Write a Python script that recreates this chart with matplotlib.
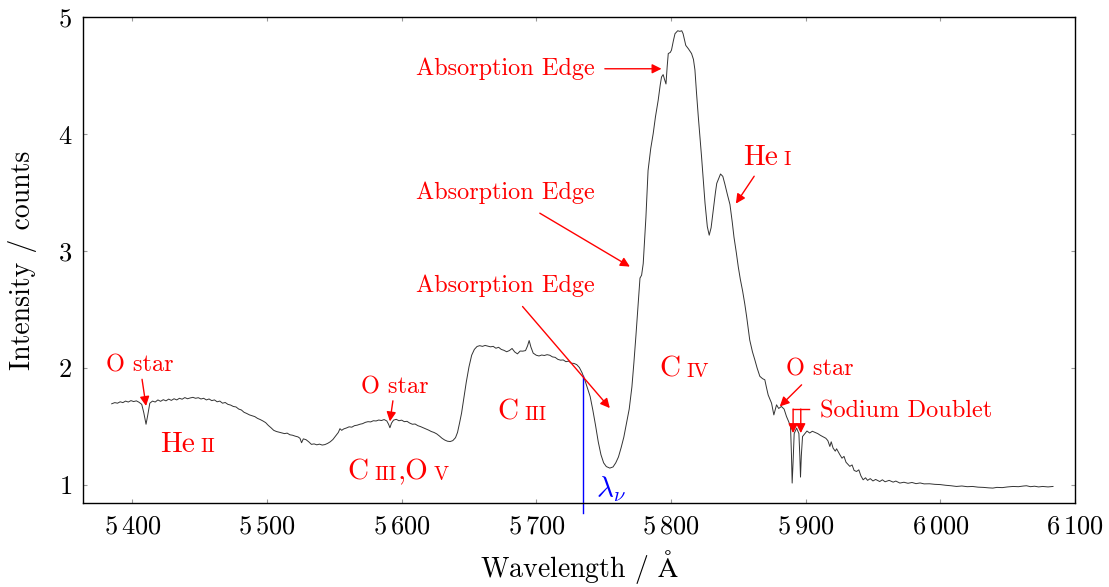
import matplotlib
matplotlib.use("Agg")
import matplotlib.pyplot as plt
from matplotlib.ticker import FuncFormatter

plt.rcParams['font.family'] = ['cmr10', 'DejaVu Serif']
plt.rcParams['mathtext.fontset'] = 'cm'
plt.rcParams['axes.unicode_minus'] = False

# spectrum (wavelength in Angstrom, intensity in counts)
wavelength = [
    5384.7, 5387, 5389, 5391, 5393, 5395, 5397, 5399, 5401, 5403,
    5405, 5407, 5408.5, 5410.2, 5411.5, 5413, 5415, 5417, 5419, 5421,
    5423, 5425, 5427, 5429, 5431, 5433, 5435, 5437, 5439, 5441,
    5443, 5445, 5447, 5449, 5451, 5453, 5455, 5457, 5459, 5461,
    5463, 5465, 5467, 5469, 5471, 5473, 5475, 5477, 5479, 5481,
    5483, 5485, 5487, 5489, 5491, 5493, 5495, 5497, 5499, 5501,
    5503, 5505, 5507, 5509, 5511, 5513, 5515, 5517, 5519, 5521,
    5523, 5524.5, 5525.7, 5527, 5529, 5531, 5533, 5535, 5537, 5539,
    5541, 5543, 5545, 5547, 5549, 5551, 5553, 5554.2, 5555.5, 5557,
    5559, 5561, 5563, 5565, 5567, 5569, 5571, 5573, 5575, 5577,
    5579, 5581, 5583, 5585, 5587, 5589, 5590.3, 5591.3, 5592.5, 5594,
    5596, 5598, 5600, 5602, 5604, 5606, 5608, 5610, 5612, 5614,
    5616, 5618, 5620, 5622, 5624, 5626, 5628, 5630, 5632, 5634,
    5636, 5638, 5640, 5641.5, 5643, 5644.5, 5646, 5648, 5650, 5652,
    5654, 5656, 5658, 5660, 5662, 5664, 5666, 5668, 5670, 5672,
    5674, 5676, 5678, 5680, 5682, 5684, 5686, 5688, 5690, 5692,
    5693.5, 5694.7, 5696, 5697.7, 5700, 5702, 5704, 5706, 5708, 5710,
    5712, 5714, 5716, 5718, 5720, 5722, 5724, 5726, 5728, 5730,
    5732, 5734, 5736, 5738, 5740, 5742, 5744, 5746, 5748, 5750,
    5752, 5754.6, 5757, 5759, 5761, 5763, 5765, 5767, 5769, 5771,
    5772.5, 5774, 5775.5, 5777, 5778.2, 5779.4, 5781.4, 5783, 5785, 5786.8,
    5788.5, 5790.5, 5792, 5793, 5794.2, 5795.2, 5796.3, 5797.2, 5798, 5799.5,
    5800.4, 5801.8, 5803, 5805, 5806.6, 5808, 5809, 5810, 5811, 5813,
    5815.3, 5816.7, 5817.8, 5819, 5820.3, 5822.7, 5825.3, 5827, 5828.4, 5829.8,
    5831.4, 5833, 5834, 5836.8, 5838.5, 5840, 5842, 5843.8, 5845.5, 5846.8,
    5848.5, 5850, 5851.5, 5853.2, 5854.8, 5856.2, 5858.5, 5860.5, 5862.3, 5864,
    5866, 5868, 5869.7, 5871, 5872.2, 5874.7, 5876.4, 5878.4, 5880, 5882,
    5884, 5885.8, 5887.5, 5888.8, 5889.5, 5890, 5890.7, 5891.5, 5893.3, 5895,
    5895.7, 5896.2, 5896.8, 5897.7, 5899.4, 5901, 5903, 5905, 5907, 5909,
    5911, 5913, 5915, 5916.5, 5918, 5919, 5920.4, 5922, 5923, 5925.4,
    5927, 5928.5, 5930, 5932.8, 5934.5, 5936, 5937.8, 5939.5, 5941, 5942.7,
    5944.5, 5946, 5948, 5950, 5952, 5955, 5957, 5959, 5962, 5965,
    5967, 5970, 5973, 5976, 5979, 5982, 5985, 5988, 5992, 5996,
    6000, 6004, 6008, 6012, 6016, 6020, 6024, 6028, 6032, 6036,
    6039, 6042, 6046, 6050, 6054, 6058, 6062, 6064, 6067, 6070,
    6073, 6076, 6080, 6083.7,
]
intensity = [
    1.695, 1.705, 1.700, 1.712, 1.705, 1.718, 1.710, 1.722, 1.714, 1.720,
    1.708, 1.690, 1.620, 1.520, 1.600, 1.700, 1.718, 1.710, 1.728, 1.716,
    1.730, 1.720, 1.735, 1.724, 1.738, 1.728, 1.742, 1.734, 1.748, 1.738,
    1.745, 1.750, 1.742, 1.747, 1.736, 1.742, 1.728, 1.736, 1.722, 1.728,
    1.712, 1.718, 1.700, 1.706, 1.690, 1.684, 1.672, 1.668, 1.650, 1.642,
    1.622, 1.612, 1.600, 1.592, 1.585, 1.570, 1.560, 1.548, 1.534, 1.510,
    1.490, 1.468, 1.458, 1.452, 1.446, 1.440, 1.444, 1.430, 1.426, 1.418,
    1.412, 1.400, 1.362, 1.395, 1.388, 1.370, 1.348, 1.352, 1.344, 1.350,
    1.342, 1.346, 1.356, 1.370, 1.390, 1.420, 1.450, 1.482, 1.468, 1.480,
    1.488, 1.498, 1.495, 1.508, 1.512, 1.520, 1.525, 1.536, 1.542, 1.540,
    1.550, 1.548, 1.556, 1.552, 1.560, 1.548, 1.520, 1.490, 1.530, 1.555,
    1.562, 1.550, 1.555, 1.542, 1.545, 1.530, 1.520, 1.522, 1.508, 1.500,
    1.490, 1.480, 1.470, 1.458, 1.450, 1.438, 1.420, 1.400, 1.385, 1.375,
    1.372, 1.380, 1.405, 1.450, 1.530, 1.615, 1.730, 1.880, 2.010, 2.110,
    2.160, 2.185, 2.192, 2.186, 2.194, 2.188, 2.182, 2.186, 2.170, 2.178,
    2.160, 2.152, 2.140, 2.150, 2.168, 2.138, 2.122, 2.146, 2.145, 2.150,
    2.190, 2.236, 2.180, 2.128, 2.110, 2.104, 2.112, 2.108, 2.115, 2.110,
    2.096, 2.092, 2.075, 2.068, 2.070, 2.055, 2.060, 2.042, 2.040, 2.030,
    2.005, 1.960, 1.900, 1.830, 1.757, 1.640, 1.510, 1.370, 1.260, 1.190,
    1.158, 1.145, 1.155, 1.190, 1.240, 1.320, 1.410, 1.530, 1.650, 1.840,
    2.050, 2.280, 2.530, 2.770, 2.795, 2.894, 3.290, 3.690, 3.880, 4.005,
    4.150, 4.290, 4.420, 4.490, 4.510, 4.470, 4.430, 4.580, 4.690, 4.700,
    4.720, 4.800, 4.860, 4.885, 4.880, 4.885, 4.860, 4.810, 4.760, 4.730,
    4.690, 4.640, 4.550, 4.350, 4.150, 3.810, 3.410, 3.210, 3.137, 3.200,
    3.350, 3.500, 3.580, 3.660, 3.640, 3.575, 3.480, 3.400, 3.250, 3.120,
    2.990, 2.865, 2.760, 2.660, 2.550, 2.440, 2.240, 2.140, 2.070, 2.000,
    1.930, 1.910, 1.900, 1.830, 1.770, 1.700, 1.600, 1.686, 1.655, 1.672,
    1.650, 1.586, 1.540, 1.500, 1.250, 1.017, 1.200, 1.440, 1.487, 1.440,
    1.250, 1.068, 1.250, 1.415, 1.440, 1.462, 1.445, 1.460, 1.450, 1.440,
    1.425, 1.412, 1.400, 1.380, 1.330, 1.370, 1.316, 1.290, 1.310, 1.260,
    1.230, 1.245, 1.195, 1.160, 1.172, 1.125, 1.116, 1.130, 1.080, 1.045,
    1.062, 1.040, 1.055, 1.035, 1.048, 1.030, 1.045, 1.028, 1.040, 1.025,
    1.034, 1.017, 1.024, 1.015, 1.022, 1.012, 1.018, 1.010, 1.011, 1.006,
    1.004, 0.998, 0.994, 0.988, 0.992, 0.986, 0.988, 0.982, 0.980, 0.976,
    0.974, 0.980, 0.978, 0.984, 0.988, 0.986, 0.992, 0.994, 0.986, 0.990,
    0.984, 0.988, 0.984, 0.988,
]

x_ticks = [5400, 5500, 5600, 5700, 5800, 5900, 6000, 6100]
y_ticks = [1, 2, 3, 4, 5]

lambda_nu = 5734.6
sodium_lines = [5890.7, 5896.4]

RED = (1, 0, 0)
arrow = dict(arrowstyle='-|>', color=RED, lw=1.0, mutation_scale=14,
             shrinkA=0, shrinkB=0)

fig = plt.figure(figsize=(11.09, 5.87), dpi=100)
ax = fig.add_axes([0.0751, 0.1436, 0.8942, 0.8269])

ax.plot(wavelength, intensity, color='#333333', lw=0.7)

ax.set_xlim(5363.6, 6100)
ax.set_ylim(0.849, 5.0)
ax.set_xticks(x_ticks)
ax.set_yticks(y_ticks)
ax.xaxis.set_major_formatter(FuncFormatter(
    lambda v, _: r'$%d\,%03d$' % (int(v) // 1000, int(v) % 1000)))
ax.yaxis.set_major_formatter(FuncFormatter(lambda v, _: r'$%d$' % v))
ax.tick_params(direction='in', length=3, width=0.8, color='#999999',
               top=True, right=True, labelsize=19)
ax.tick_params(axis='x', pad=9)
ax.tick_params(axis='y', pad=8)
for s in ax.spines.values():
    s.set_color('black')
    s.set_linewidth(1.0)

fig.text(0.5222, 0.017, r'Wavelength / $\mathrm{\AA}$', ha='center',
         va='baseline', fontsize=20)
fig.text(0.020, 0.557, 'Intensity / counts', rotation=90, ha='center',
         va='center', fontsize=20)

# lambda_nu marker
ax.plot([lambda_nu, lambda_nu], [0.76, 1.93], color='blue', lw=1.0,
        clip_on=False)
ax.text(5744.2, 0.9, r'$\lambda_\nu$', color='blue', fontsize=21,
        va='baseline')

renderer = fig.canvas.get_renderer()


# species labels, ionisation stage set smaller like small caps
def species(x, y, parts, gap=6):
    for i, p in enumerate(parts):
        size = 21 if i % 2 == 0 else 14.5
        t = ax.text(x, y, p, color=RED, fontsize=size, va='baseline')
        bb = t.get_window_extent(renderer)
        step = gap if i % 2 == 0 else 1
        x = ax.transData.inverted().transform((bb.x1 + step, bb.y0))[0]


species(5420.5, 1.285, ['He', 'II'])
species(5559.4, 1.045, ['C', 'III', ',O', 'V'])
species(5671.4, 1.558, ['C', 'III'])
species(5791.7, 1.928, ['C', 'IV'])
species(5853.4, 3.738, ['He', 'I'])

# feature annotations
ann_size = 17.5
ax.annotate('', xy=(5848.2, 3.407), xytext=(5861.8, 3.641), arrowprops=arrow)

ax.annotate('O star', xy=(5410.2, 1.676), xytext=(5405.7, 1.928),
            color=RED, fontsize=ann_size, ha='center', va='bottom',
            arrowprops=arrow)
ax.annotate('O star', xy=(5591.3, 1.544), xytext=(5595.0, 1.744),
            color=RED, fontsize=ann_size, ha='center', va='bottom',
            arrowprops=arrow)
ax.annotate('', xy=(5880.8, 1.672), xytext=(5897.0, 1.857), arrowprops=arrow)
ax.text(5885.3, 1.934, 'O star', color=RED, fontsize=ann_size,
        va='baseline')

ax.annotate('', xy=(5793.0, 4.56), xytext=(5750.9, 4.56), arrowprops=arrow)
ax.text(5676.7, 4.507, 'Absorption Edge', color=RED, fontsize=ann_size,
        ha='center', va='baseline')
ax.annotate('', xy=(5769.5, 2.868), xytext=(5702.6, 3.325), arrowprops=arrow)
ax.text(5676.7, 3.444, 'Absorption Edge', color=RED, fontsize=ann_size,
        ha='center', va='baseline')
ax.annotate('', xy=(5754.6, 1.658), xytext=(5689.8, 2.527), arrowprops=arrow)
ax.text(5676.7, 2.65, 'Absorption Edge', color=RED, fontsize=ann_size,
        ha='center', va='baseline')

# sodium doublet bracket
ax.plot([sodium_lines[0], 5902.3], [1.65, 1.65], color=RED, lw=1.0)
for w in sodium_lines:
    ax.annotate('', xy=(w, 1.444), xytext=(w, 1.65), arrowprops=arrow)
ax.text(5910.5, 1.575, 'Sodium Doublet', color=RED, fontsize=ann_size,
        va='baseline')

fig.savefig('out.png', dpi=100)
